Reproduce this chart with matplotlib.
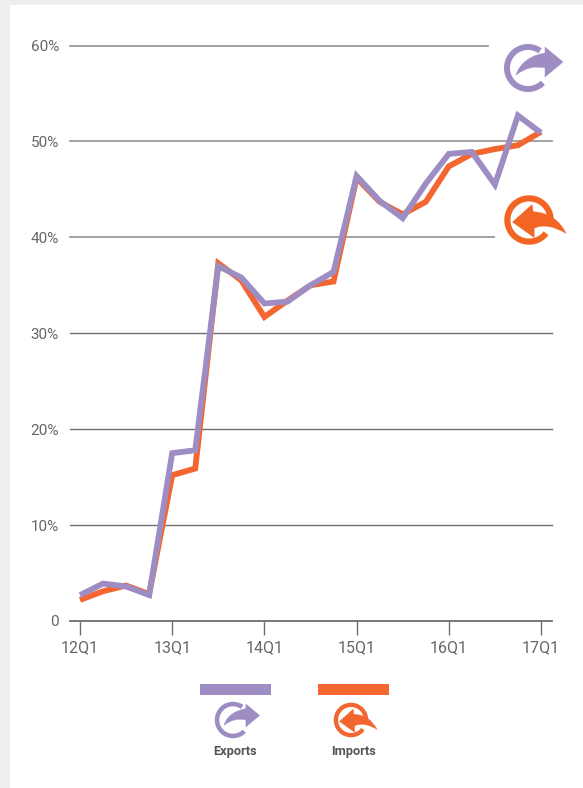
# -*- coding: utf-8 -*-
#%% import library
import numpy as np
import matplotlib
matplotlib.use("Agg")
import matplotlib.pyplot as plt
from matplotlib.patches import PathPatch, Rectangle
from matplotlib.path import Path

plt.rcParams["font.family"] = ["Roboto", "DejaVu Sans"]

#%% data
quarters = ["12Q1", "", "", "", "13Q1", "", "", "", "14Q1", "", "", "", "15Q1", "", "", "",
            "16Q1", "", "", "", "17Q1"]
exports = [2.7, 3.9, 3.6, 2.7, 17.5, 17.8, 37.0, 35.8, 33.1, 33.3, 35.0, 36.4,
           46.4, 43.8, 42.0, 45.6, 48.7, 48.9, 45.5, 52.7, 50.9]
imports = [2.2, 3.1, 3.7, 2.8, 15.2, 15.9, 37.3, 35.5, 31.7, 33.4, 35.0, 35.4,
           46.2, 43.7, 42.4, 43.7, 47.4, 48.7, 49.2, 49.6, 51.0]
y_ticks = [0, 10, 20, 30, 40, 50, 60]
y_labels = ["0", "10%", "20%", "30%", "40%", "50%", "60%"]

PURPLE = "#9e8dc3"
ORANGE = "#f4662f"
W, H = 583, 788

fig = plt.figure(figsize=(W / 100, H / 100), dpi=100, facecolor="white")

# grey strips on the left and top
fig.patches.append(Rectangle((0, 0), 10 / W, 1, transform=fig.transFigure, color="#eeeeee", lw=0))
fig.patches.append(Rectangle((0, 1 - 5 / H), 1, 5 / H, transform=fig.transFigure, color="#eeeeee", lw=0))

#%% main axes, 0 is at pixel 621 and 60% at pixel 45.5
left, right, bottom, top = 70, 552, 621, 45.5
ax = fig.add_axes([left / W, 1 - bottom / H, (right - left) / W, (bottom - top) / H])
ax.set_xlim((left - 80) / 23.05, (right - 80) / 23.05)
ax.set_ylim(0, 60)
ax.patch.set_alpha(0)

# grid lines do not all have the same length (icons sit next to them)
grid_end = {10: 552, 20: 552, 30: 552, 40: 494, 50: 552, 60: 488}
for v, end in grid_end.items():
    light = v >= 40
    ax.axhline(v, xmin=0, xmax=(end - left) / (right - left), clip_on=False, zorder=1,
               color="#9a9a9a" if light else "#6e6e6e", lw=1.3 if light else 1.0)

x = np.arange(len(exports))
ax.plot(x, imports, color=ORANGE, lw=4.2, solid_joinstyle="miter", solid_capstyle="butt",
        clip_on=False, zorder=3)
ax.plot(x, exports, color=PURPLE, lw=4.2, solid_joinstyle="miter", solid_capstyle="butt",
        clip_on=False, zorder=4)

for s in ["top", "left", "right"]:
    ax.spines[s].set_visible(False)
ax.spines["bottom"].set_color("#6e6e6e")
ax.spines["bottom"].set_linewidth(1.3)

ax.set_yticks(y_ticks)
ax.set_yticklabels(y_labels, fontsize=11, color="#666666")
ax.tick_params(axis="y", length=0, pad=8)
ax.set_xticks(x[::4])
ax.set_xticklabels(quarters[::4], fontsize=11.5, color="#666666")
ax.tick_params(axis="x", length=10, width=1.0, color="#6e6e6e", pad=4)

#%% overlay in pixel coordinates for the legend and the icons
ov = fig.add_axes([0, 0, 1, 1])
ov.set_xlim(0, W)
ov.set_ylim(H, 0)
ov.axis("off")
ov.patch.set_alpha(0)

EXPORT_ARROW = [(Path.MOVETO, (17, -21)), (Path.LINETO, (35, -6)), (Path.LINETO, (17, 9)),
                (Path.LINETO, (17, 0)), (Path.CURVE3, (2, -4)), (Path.CURVE3, (-12, 7)),
                (Path.CURVE3, (-6, -11)), (Path.CURVE3, (17, -15)), (Path.CLOSEPOLY, (17, -21))]
IMPORT_ARROW = [(Path.MOVETO, (3, -15)), (Path.LINETO, (-16, 2)), (Path.LINETO, (5, 17)),
                (Path.LINETO, (5, 8)), (Path.CURVE3, (18, 2)), (Path.CURVE3, (36, 13)),
                (Path.CURVE3, (26, -7)), (Path.CURVE3, (4, -8)), (Path.CLOSEPOLY, (3, -15))]


def icon(cx, cy, scale, color, arrow, gap, ring):
    # ring with a gap where the arrow passes, angles in degrees with y pointing down
    r = 21 * scale
    t = np.radians(np.linspace(gap[1], gap[0] + 360, 100))
    ov.plot(cx + r * np.cos(t), cy + r * np.sin(t), color=color, lw=ring * scale * 0.72,
            solid_capstyle="butt")
    codes = [c for c, _ in arrow]
    verts = [(cx + scale * p[0], cy + scale * p[1]) for _, p in arrow]
    ov.add_patch(PathPatch(Path(verts, codes), facecolor=color, edgecolor=color, lw=0.3))


icon(528, 68, 1.0, PURPLE, EXPORT_ARROW, (-55, 45), 6)
icon(529, 220, 1.03, "#f26522", IMPORT_ARROW, (8, 38), 6)
icon(233, 720, 0.76, PURPLE, EXPORT_ARROW, (-55, 45), 6)
icon(351, 720, 0.72, ORANGE, IMPORT_ARROW, (8, 38), 6)

ov.add_patch(Rectangle((200, 684), 71, 11, color=PURPLE, lw=0))
ov.add_patch(Rectangle((318, 684), 71, 11, color=ORANGE, lw=0))
ov.text(235.5, 751, "Exports", ha="center", va="center", fontsize=9.2, fontweight="bold", color="#555555")
ov.text(353.5, 751, "Imports", ha="center", va="center", fontsize=9.2, fontweight="bold", color="#555555")

plt.savefig("out.png", dpi=100)
